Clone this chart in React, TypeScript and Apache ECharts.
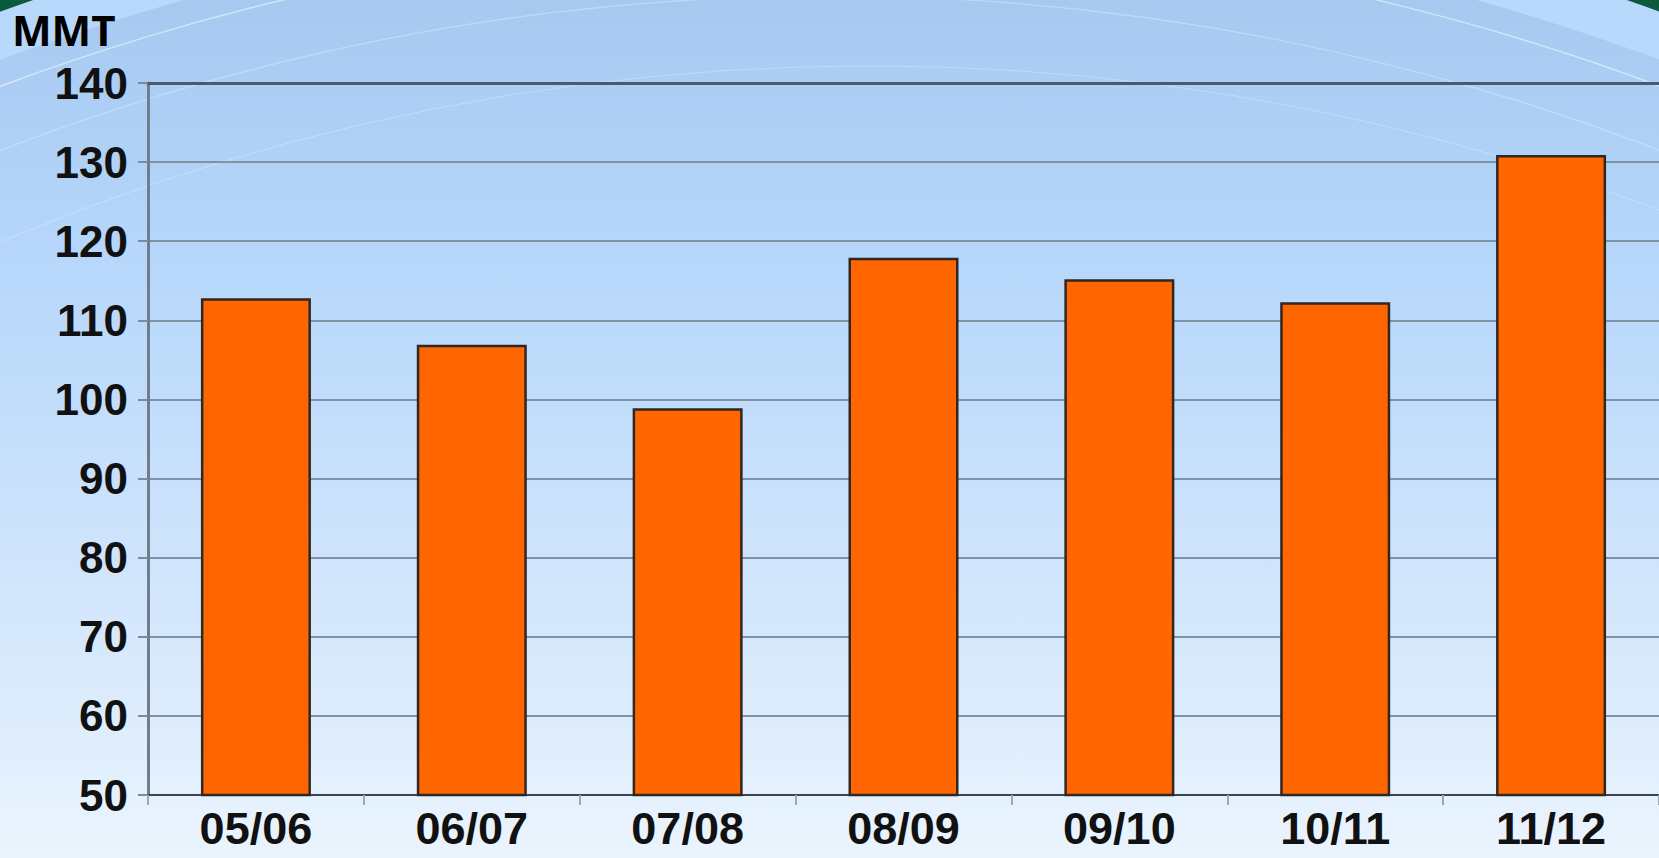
import React, { useEffect, useRef } from "react";
import * as echarts from "echarts";

const categories = ["05/06", "06/07", "07/08", "08/09", "09/10", "10/11", "11/12"];
const production = [112.8, 106.9, 98.9, 117.9, 115.2, 112.3, 130.9];
const unitLabel = "MMT";
const yMin = 50;
const yMax = 140;
const yStep = 10;

export default function App() {
  const ref = useRef<HTMLDivElement>(null);
  useEffect(() => {
    if (!ref.current) return;
    const chart = echarts.init(ref.current, undefined, { renderer: "svg" });
    const cx = 830;
    const cy = 2300;
    const R = 2434;
    const bgGrad = new echarts.graphic.LinearGradient(0, 0, 0, 858, [
      { offset: 0, color: "#a7c9f0" },
      { offset: 0.3, color: "#b6d7fb" },
      { offset: 0.65, color: "#cfe4fc" },
      { offset: 1, color: "#eaf4fd" },
    ], true);
    chart.setOption({
      animation: false,
      backgroundColor: "#0c5a3c",
      graphic: [
        { type: "circle", z: -10, silent: true, shape: { cx, cy, r: R }, style: { fill: "#b8d9fc" } },
        { type: "circle", z: -10, silent: true, shape: { cx, cy, r: R - 45 }, style: { fill: bgGrad } },
        { type: "circle", z: -10, silent: true, shape: { cx, cy, r: R - 70 }, style: { fill: "none", stroke: "rgba(255,255,255,0.5)", lineWidth: 1.5 } },
        { type: "circle", z: -10, silent: true, shape: { cx, cy, r: R - 130 }, style: { fill: "none", stroke: "rgba(255,255,255,0.3)", lineWidth: 1.2 } },
        { type: "circle", z: -10, silent: true, shape: { cx: cx + 40, cy, r: R - 200 }, style: { fill: "none", stroke: "rgba(255,255,255,0.25)", lineWidth: 1 } },
        {
          type: "text",
          left: 12,
          top: 8,
          style: {
            text: unitLabel,
            font: "bold 42px 'Open Sans', sans-serif",
            fill: "#000",
          },
        },
      ],
      grid: { left: 148, top: 83, width: 1522, height: 712, containLabel: false },
      xAxis: [
        {
          type: "category",
          data: categories,
          position: "bottom",
          axisLine: { show: true, lineStyle: { color: "#3b4552", width: 2 } },
          axisTick: { show: true, length: 10, lineStyle: { color: "#9aa8b6", width: 2 } },
          axisLabel: {
            color: "#111",
            fontSize: 45,
            fontWeight: "bold",
            fontFamily: "'Liberation Sans', Arial, sans-serif",
            margin: 11,
          },
        },
        {
          type: "category",
          data: categories,
          position: "top",
          axisLine: { show: true, lineStyle: { color: "#4a5a6e", width: 3 } },
          axisTick: { show: false },
          axisLabel: { show: false },
        },
      ],
      yAxis: {
        type: "value",
        min: yMin,
        max: yMax,
        interval: yStep,
        axisLine: { show: true, lineStyle: { color: "#6f7d8c", width: 3 } },
        axisTick: { show: true, length: 10, lineStyle: { color: "#7d8a98", width: 2 } },
        splitLine: { show: true, lineStyle: { color: "#7f92a6", width: 2 } },
        axisLabel: {
          color: "#111",
          fontSize: 44,
          fontWeight: "bold",
          fontFamily: "'Liberation Sans', Arial, sans-serif",
          margin: 20,
        },
      },
      series: [
        {
          type: "bar",
          data: production,
          barWidth: 110,
          itemStyle: { color: "#ff6600", borderColor: "#312722", borderWidth: 2.5 },
        },
      ],
    });
    return () => chart.dispose();
  }, []);
  return (
    <div
      ref={ref}
      style={{ position: "fixed", left: 0, top: 0, width: 1659, height: 858 }}
    />
  );
}
